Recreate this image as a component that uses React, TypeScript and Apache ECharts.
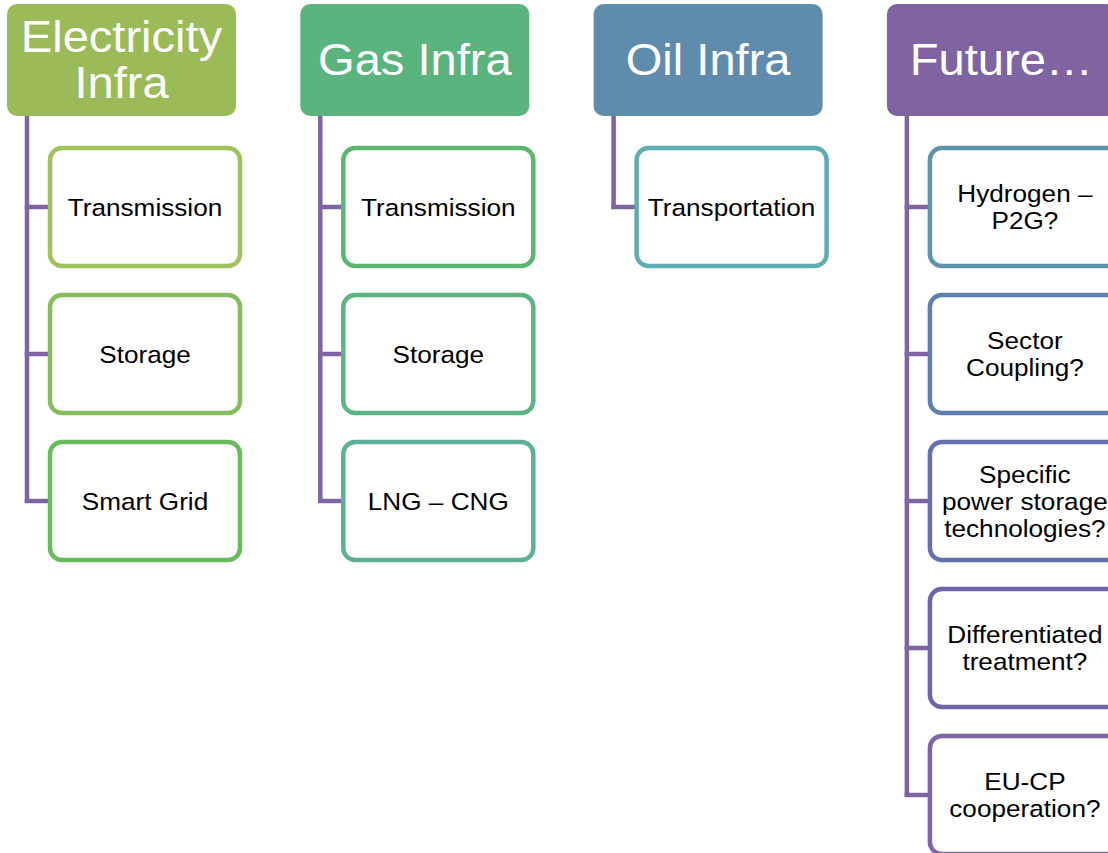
import React, { useEffect, useRef } from "react";
import * as echarts from "echarts";

const headers = ["Electricity\nInfra", "Gas Infra", "Oil Infra", "Future…"];
const headerColors = ["#9BBB59", "#5BB47E", "#5F8CAC", "#8064A2"];

const children: string[][] = [
  ["Transmission", "Storage", "Smart Grid"],
  ["Transmission", "Storage", "LNG – CNG"],
  ["Transportation"],
  [
    "Hydrogen –\nP2G?",
    "Sector\nCoupling?",
    "Specific\npower storage\ntechnologies?",
    "Differentiated\ntreatment?",
    "EU-CP\ncooperation?",
  ],
];
const childColors: string[][] = [
  ["#A0C25B", "#86BD5C", "#68BA5C"],
  ["#5DB66F", "#5CB482", "#5DAF9A"],
  ["#5EAEB1"],
  ["#5E93AE", "#5E80AE", "#6471AD", "#7065AA", "#7F65A6"],
];
const connectorColor = "#8064A2";

export default function App() {
  const ref = useRef<HTMLDivElement>(null);
  useEffect(() => {
    if (!ref.current) return;
    const chart = echarts.init(ref.current, undefined, { renderer: "svg" });
    const colX0 = 7;
    const colStep = 293.3;
    const headW = 229;
    const headTop = 4;
    const headH = 112;
    const childDx = 43;
    const childW = 190;
    const childH = 118;
    const childTop = 148;
    const childStep = 147;
    const lineDx = 20;

    const elements: any[] = [];
    headers.forEach((h, i) => {
      const x = colX0 + i * colStep;
      const kids = children[i];
      const lineX = x + lineDx;
      const lastMid = childTop + (kids.length - 1) * childStep + childH / 2;
      elements.push({
        type: "line",
        shape: { x1: lineX, y1: headTop + headH, x2: lineX, y2: lastMid + 2 },
        style: { stroke: connectorColor, lineWidth: 4.5 },
        z: 1,
      });
      kids.forEach((k, j) => {
        const cy = childTop + j * childStep;
        const mid = cy + childH / 2;
        elements.push({
          type: "line",
          shape: { x1: lineX - 2.25, y1: mid, x2: x + childDx, y2: mid },
          style: { stroke: connectorColor, lineWidth: 4.5 },
          z: 1,
        });
        elements.push({
          type: "rect",
          shape: { x: x + childDx, y: cy, width: childW, height: childH, r: 12 },
          style: { fill: "#ffffff", stroke: childColors[i][j], lineWidth: 4.5 },
          z: 2,
        });
        elements.push({
          type: "text",
          x: x + childDx + childW / 2,
          y: mid,
          scaleX: 1.09,
          style: {
            text: k,
            x: 0,
            y: 0,
            align: "center",
            verticalAlign: "middle",
            fill: "#000000",
            fontSize: 24,
            lineHeight: 27,
            fontFamily: "Liberation Sans, Arial, sans-serif",
          },
          z: 3,
        });
      });
      elements.push({
        type: "rect",
        shape: { x, y: headTop, width: headW, height: headH, r: 10 },
        style: { fill: headerColors[i] },
        z: 2,
      });
      elements.push({
        type: "text",
        x: x + headW / 2,
        y: headTop + headH / 2,
        scaleX: 1.07,
        style: {
          text: h,
          x: 0,
          y: 0,
          align: "center",
          verticalAlign: "middle",
          fill: "#ffffff",
          fontSize: 44,
          lineHeight: 46,
          fontFamily: "Liberation Sans, Arial, sans-serif",
        },
        z: 3,
      });
    });

    chart.setOption({
      animation: false,
      backgroundColor: "#ffffff",
      graphic: { elements },
    });
    return () => chart.dispose();
  }, []);
  return (
    <div
      ref={ref}
      style={{ position: "fixed", left: 0, top: 0, width: 1108, height: 853 }}
    />
  );
}
